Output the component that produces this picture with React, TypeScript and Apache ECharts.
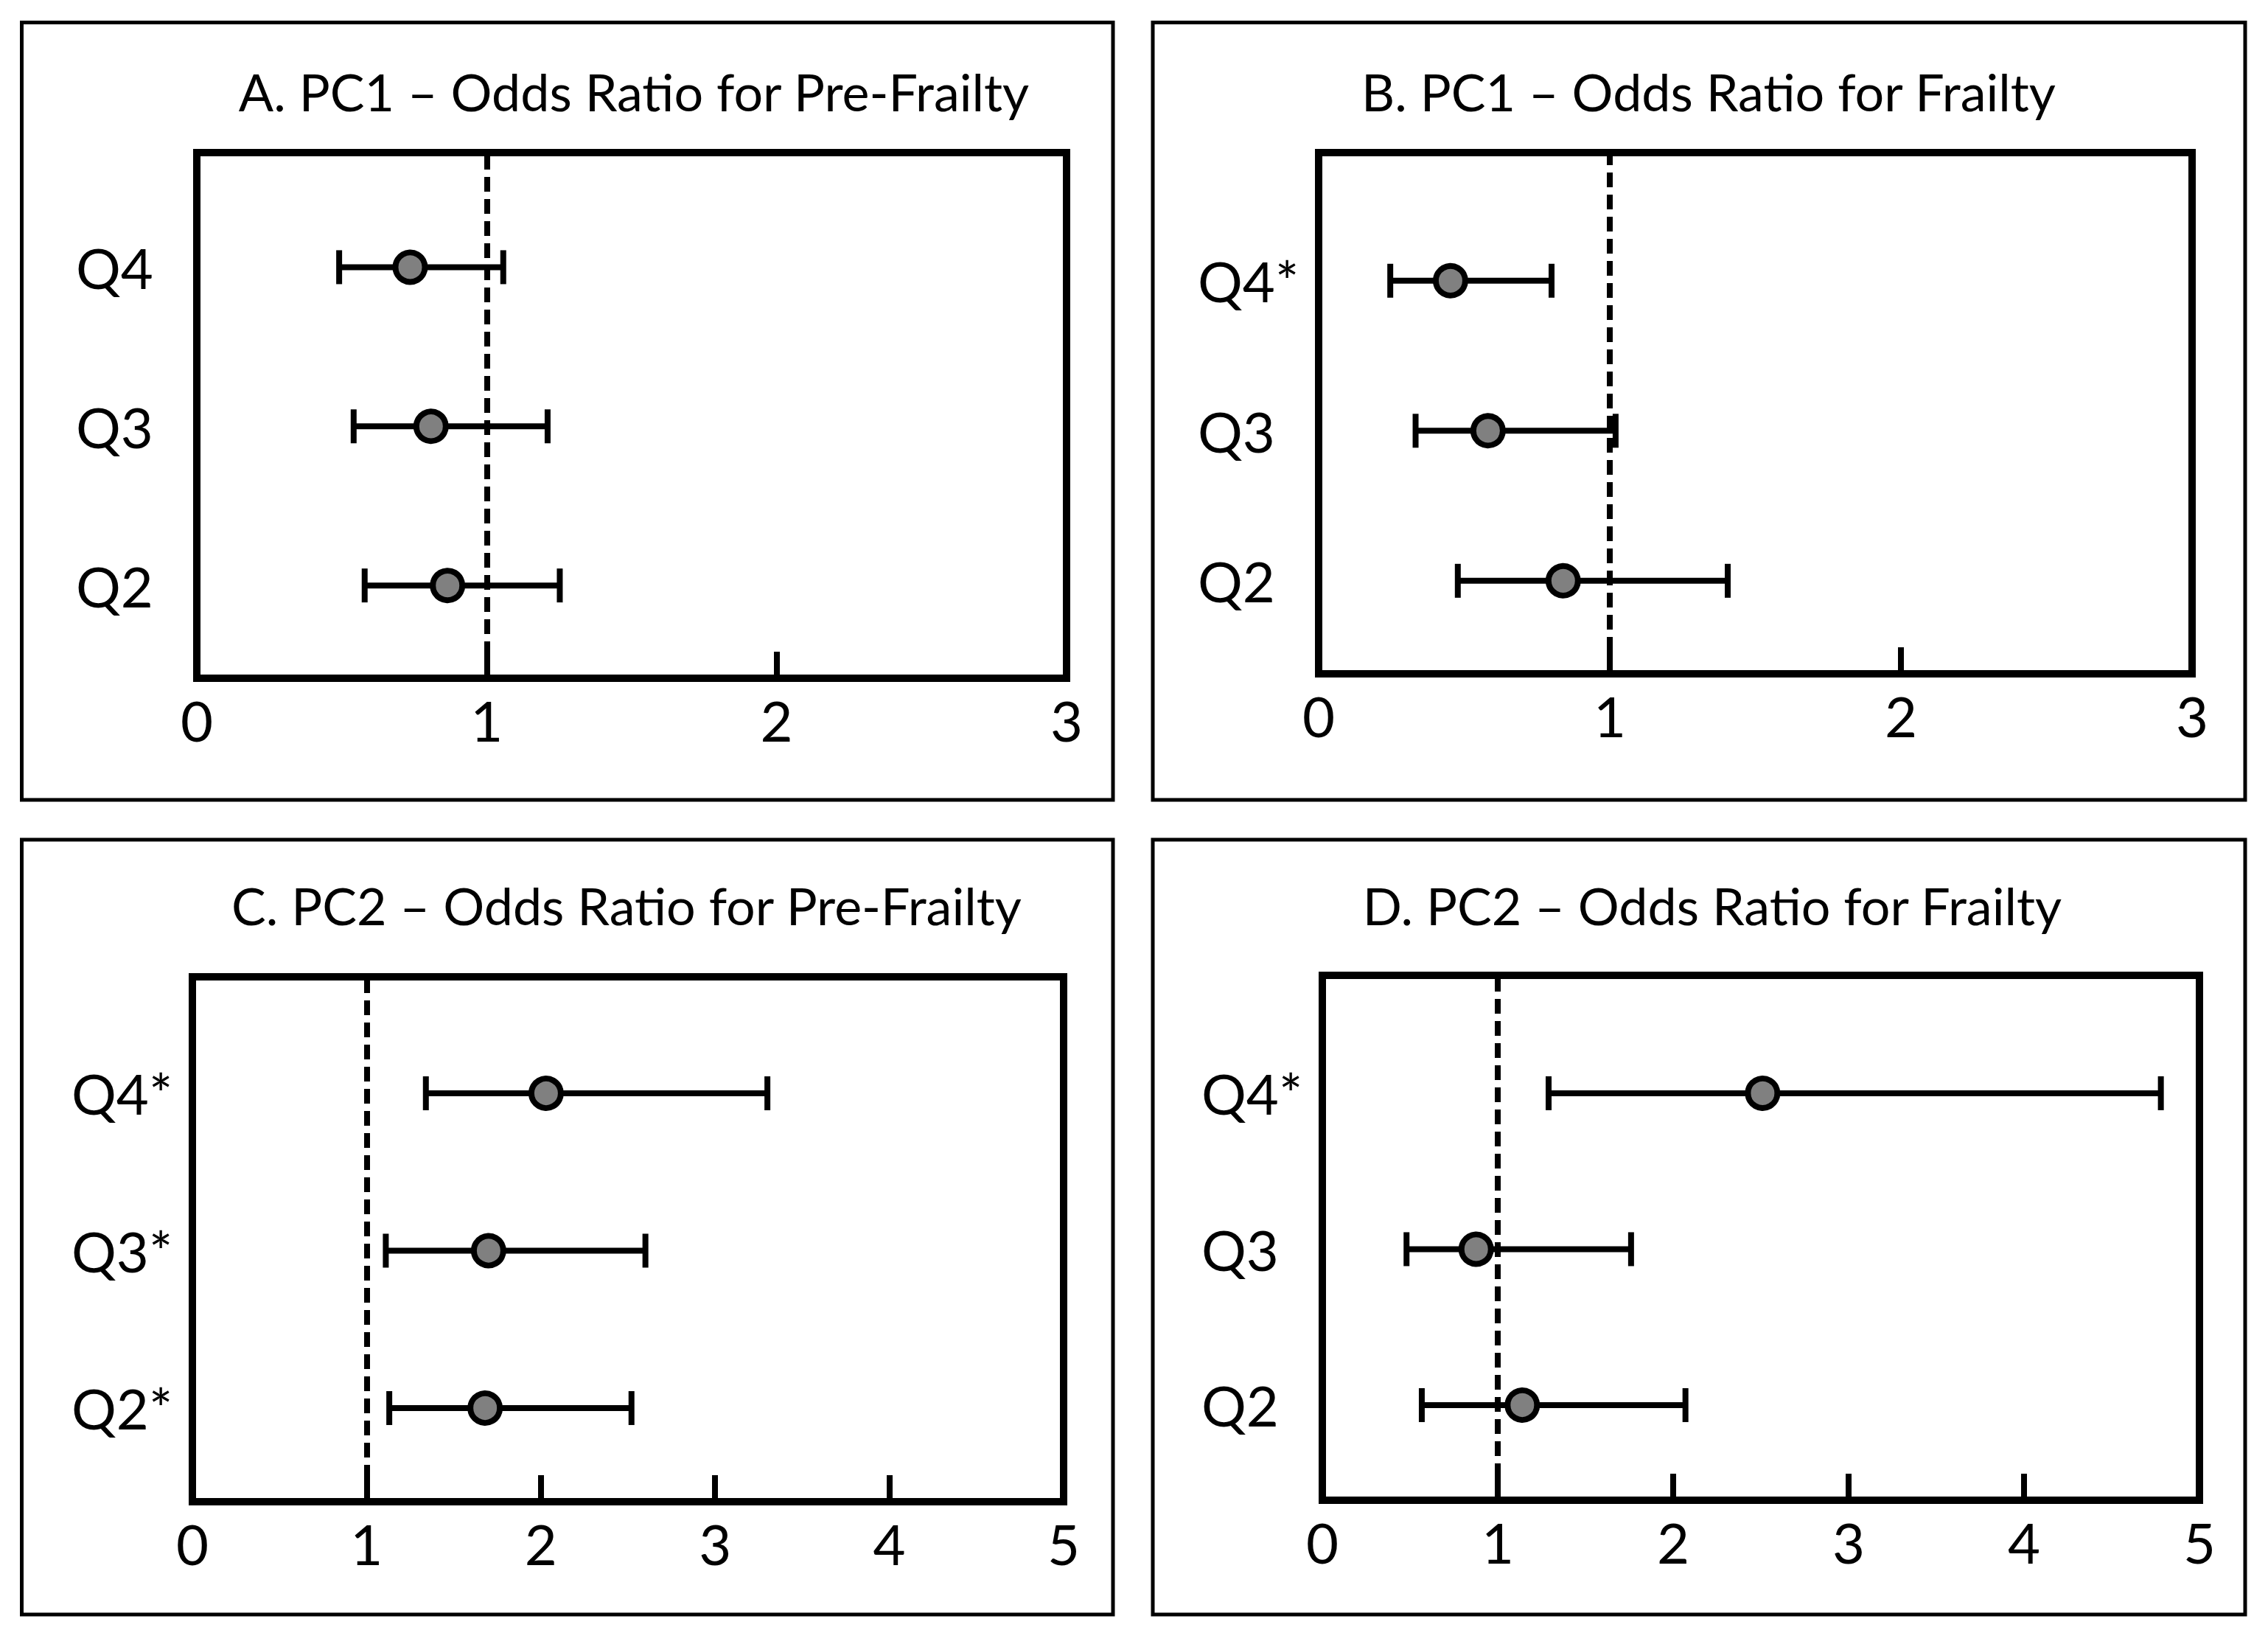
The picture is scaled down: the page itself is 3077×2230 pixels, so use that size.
import React, { useEffect, useRef } from "react";
import * as echarts from "echarts";

// ---------- data ----------
const titles = [
  "A. PC1 – Odds Ratio for Pre-Frailty",
  "B. PC1 – Odds Ratio for Frailty",
  "C. PC2 – Odds Ratio for Pre-Frailty",
  "D. PC2 – Odds Ratio for Frailty",
];
const rowIndex = [1, 2, 3]; // Q2, Q3, Q4 (bottom to top)
const rowLabelsA = ["Q2", "Q3", "Q4"];
const rowLabelsB = ["Q2", "Q3", "Q4*"];
const rowLabelsC = ["Q2*", "Q3*", "Q4*"];
const rowLabelsD = ["Q2", "Q3", "Q4*"];

const orA = [0.865, 0.808, 0.736];
const lowA = [0.579, 0.541, 0.491];
const highA = [1.252, 1.21, 1.057];

const orB = [0.84, 0.582, 0.453];
const lowB = [0.478, 0.333, 0.246];
const highB = [1.405, 1.02, 0.8];

const orC = [1.68, 1.7, 2.03];
const lowC = [1.13, 1.11, 1.34];
const highC = [2.52, 2.6, 3.3];

const orD = [1.14, 0.877, 2.51];
const lowD = [0.567, 0.48, 1.29];
const highD = [2.07, 1.76, 4.78];

const xMaxTop = 3;
const xMaxBottom = 5;
const referenceOR = 1;

// ---------- layout ----------
const FONT = "Lato";
const TITLE_FS = 70;
const LABEL_FS = 76;

const panels = [
  { labels: rowLabelsA, or: orA, low: lowA, high: highA, xMax: xMaxTop,
    grid: { left: 267, top: 207, width: 1180, height: 713 }, yMin: 0.417, yMax: 3.72,
    title: { x: 860, y: 124 }, box: { x: 29.5, y: 30.5, w: 1480.5, h: 1054.5 } },
  { labels: rowLabelsB, or: orB, low: lowB, high: highB, xMax: xMaxTop,
    grid: { left: 1789, top: 207, width: 1185, height: 707 }, yMin: 0.38, yMax: 3.854,
    title: { x: 2318, y: 124 }, box: { x: 1564, y: 30.5, w: 1482, h: 1054.5 } },
  { labels: rowLabelsC, or: orC, low: lowC, high: highC, xMax: xMaxBottom,
    grid: { left: 261, top: 1325, width: 1182, height: 712 }, yMin: 0.405, yMax: 3.74,
    title: { x: 850, y: 1228 }, box: { x: 29.5, y: 1139, w: 1480.5, h: 1051 } },
  { labels: rowLabelsD, or: orD, low: lowD, high: highD, xMax: xMaxBottom,
    grid: { left: 1794, top: 1323, width: 1190, height: 712 }, yMin: 0.39, yMax: 3.756,
    title: { x: 2323, y: 1228 }, box: { x: 1564, y: 1139, w: 1482, h: 1051 } },
];

function buildOption() {
  const grid: any[] = [];
  const xAxis: any[] = [];
  const yAxis: any[] = [];
  const series: any[] = [];
  const graphic: any[] = [];

  panels.forEach((p, i) => {
    grid.push({
      ...p.grid,
      show: true,
      borderColor: "#000",
      borderWidth: 10,
      backgroundColor: "transparent",
      containLabel: false,
    });
    xAxis.push({
      type: "value",
      gridIndex: i,
      min: 0,
      max: p.xMax,
      interval: 1,
      axisLine: { show: false },
      splitLine: { show: false },
      axisTick: { show: true, inside: true, length: 36, lineStyle: { color: "#000", width: 8 } },
      axisLabel: { fontFamily: FONT, fontSize: LABEL_FS, color: "#000", margin: 18 },
    });
    const labels = p.labels;
    yAxis.push({
      type: "value",
      gridIndex: i,
      min: p.yMin,
      max: p.yMax,
      axisLine: { show: false },
      splitLine: { show: false },
      axisTick: { show: false },
      axisLabel: {
        customValues: rowIndex,
        formatter: (v: number) => {
          const k = rowIndex.indexOf(Math.round(v * 1000) / 1000);
          return k >= 0 ? labels[k] : "";
        },
        fontFamily: FONT,
        fontSize: LABEL_FS,
        color: "#000",
        align: "left",
        margin: 164,
      },
    });
    series.push({
      type: "custom",
      xAxisIndex: i,
      yAxisIndex: i,
      z: 3,
      encode: { x: [0, 1], y: 2 },
      data: rowIndex.map((r, k) => [p.low[k], p.high[k], r]),
      renderItem: (params: any, api: any) => {
        const lo = api.value(0);
        const hi = api.value(1);
        const y = api.value(2);
        const a = api.coord([lo, y]);
        const b = api.coord([hi, y]);
        const cap = 23;
        const style = { stroke: "#000", lineWidth: 8, fill: null };
        return {
          type: "group",
          children: [
            { type: "line", shape: { x1: a[0], y1: a[1], x2: b[0], y2: b[1] }, style },
            { type: "line", shape: { x1: a[0], y1: a[1] - cap, x2: a[0], y2: a[1] + cap }, style },
            { type: "line", shape: { x1: b[0], y1: b[1] - cap, x2: b[0], y2: b[1] + cap }, style },
          ],
        };
      },
      markLine: {
        silent: true,
        symbol: "none",
        label: { show: false },
        lineStyle: { color: "#000", width: 8, type: [20, 10] },
        data: [{ xAxis: referenceOR }],
      },
    });
    series.push({
      type: "scatter",
      xAxisIndex: i,
      yAxisIndex: i,
      z: 5,
      symbol: "circle",
      symbolSize: 40,
      itemStyle: { color: "#808080", borderColor: "#000", borderWidth: 8, opacity: 1 },
      data: rowIndex.map((r, k) => [p.or[k], r]),
    });
    graphic.push({
      type: "rect",
      shape: { x: p.box.x, y: p.box.y, width: p.box.w, height: p.box.h },
      style: { fill: "none", stroke: "#000", lineWidth: 5 },
      silent: true,
    });
    graphic.push({
      type: "text",
      x: p.title.x,
      y: p.title.y,
      style: {
        text: titles[i],
        fontFamily: FONT,
        fontSize: TITLE_FS,
        fill: "#000",
        textAlign: "center",
        textVerticalAlign: "middle",
      },
      silent: true,
    });
  });

  return {
    animation: false,
    backgroundColor: "#fff",
    grid,
    xAxis,
    yAxis,
    series,
    graphic,
  };
}

export default function App() {
  const ref = useRef<HTMLDivElement>(null);
  useEffect(() => {
    document.body.style.margin = "0";
    document.body.style.overflow = "hidden";
    if (!ref.current) return;
    const chart = echarts.init(ref.current, null, { renderer: "svg" });
    chart.setOption(buildOption());
    return () => chart.dispose();
  }, []);
  return <div ref={ref} style={{ width: 3077, height: 2230, background: "#fff" }} />;
}
